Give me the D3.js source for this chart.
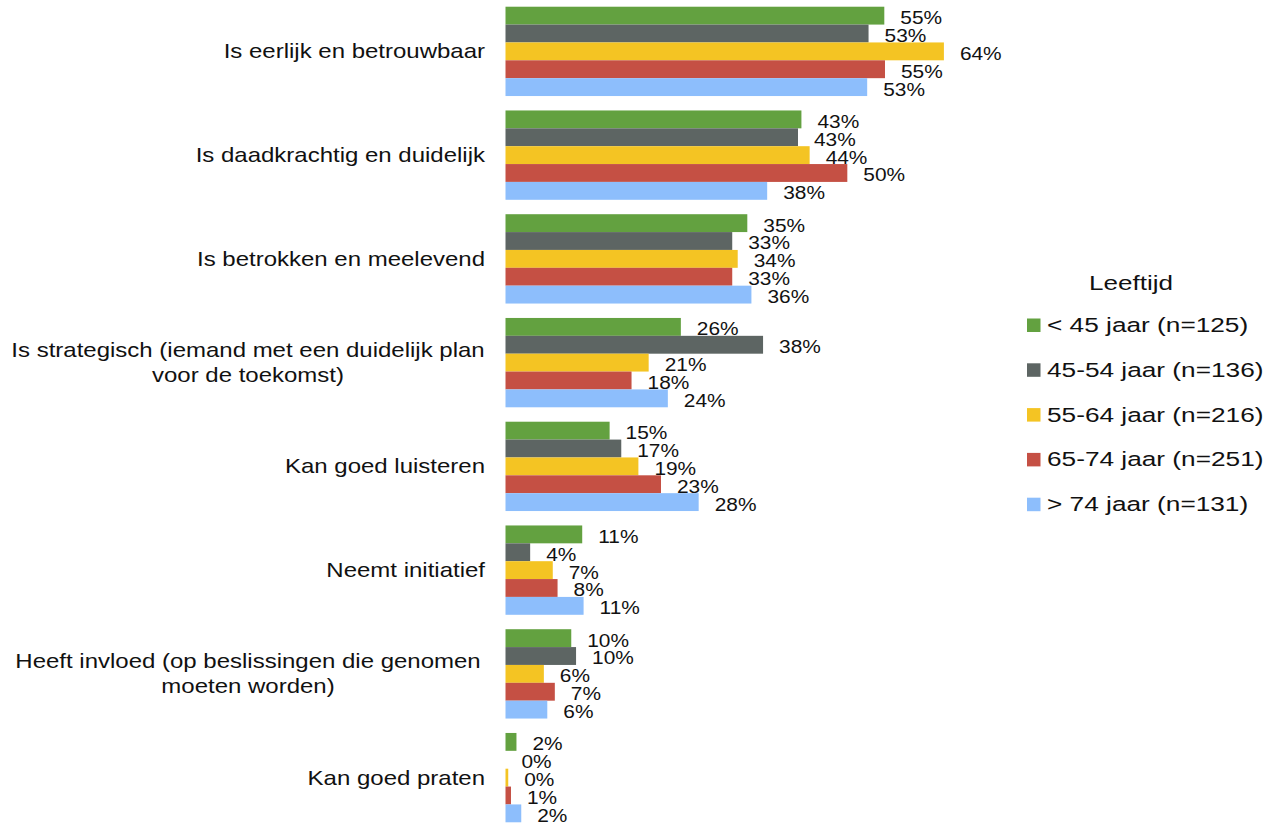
<!DOCTYPE html>
<html>
<head>
<meta charset="utf-8">
<script src="https://cdn.jsdelivr.net/npm/d3@7"></script>
<style>
  html, body { margin: 0; padding: 0; background: #fff; }
  svg { display: block; font-family: "Liberation Sans", Arial, sans-serif; }
</style>
</head>
<body>
<svg id="chart" width="1270" height="823"></svg>
<script>
const categories = [
  "Is eerlijk en betrouwbaar",
  "Is daadkrachtig en duidelijk",
  "Is betrokken en meelevend",
  "Is strategisch (iemand met een duidelijk plan\nvoor de toekomst)",
  "Kan goed luisteren",
  "Neemt initiatief",
  "Heeft invloed (op beslissingen die genomen\nmoeten worden)",
  "Kan goed praten"
];
const seriesNames = [
  "< 45 jaar (n=125)",
  "45-54 jaar (n=136)",
  "55-64 jaar (n=216)",
  "65-74 jaar (n=251)",
  "> 74 jaar (n=131)"
];
const seriesColors = ["#63A140", "#5D6563", "#F4C423", "#C55044", "#8DBEFC"];
const under45  = [55.3, 43.2, 35.3, 25.6, 15.2, 11.2,  9.6, 1.6];
const age45_54 = [53.0, 42.7, 33.1, 37.6, 16.9,  3.6, 10.3, 0.0];
const age55_64 = [64.0, 44.4, 33.9, 20.9, 19.4,  6.9,  5.6, 0.4];
const age65_74 = [55.4, 49.9, 33.1, 18.4, 22.7,  7.6,  7.2, 0.8];
const over74   = [52.8, 38.2, 35.9, 23.7, 28.2, 11.4,  6.1, 2.3];
const legendTitle = "Leeftijd";

const seriesValues = [under45, age45_54, age55_64, age65_74, over74];

const svg = d3.select("#chart");

const x = d3.scaleLinear().domain([0, 100]).range([505.5, 1190.5]);
const y = d3.scaleBand().domain(categories).range([-0.5, 829.5]).paddingInner(0.139).paddingOuter(0.0695);
const ys = d3.scaleBand().domain(seriesNames).range([0, y.bandwidth()]);
const color = d3.scaleOrdinal().domain(seriesNames).range(seriesColors);
const fmt = v => d3.format(".0f")(v) + "%";

const rows = categories.map((c, i) => ({
  cat: c,
  vals: seriesNames.map((s, j) => ({ s, v: seriesValues[j][i] }))
}));

const groups = svg.append("g").selectAll("g.grp")
  .data(rows).join("g")
  .attr("class", "grp")
  .attr("transform", d => `translate(0,${y(d.cat)})`);

groups.selectAll("rect")
  .data(d => d.vals).join("rect")
  .attr("x", x(0))
  .attr("y", d => ys(d.s))
  .attr("width", d => x(d.v) - x(0))
  .attr("height", ys.bandwidth())
  .attr("fill", d => color(d.s));

groups.selectAll("text.val")
  .data(d => d.vals).join("text")
  .attr("class", "val")
  .attr("transform", d => `translate(${x(d.v) + 16},${ys(d.s) + ys.bandwidth() - 0.5}) scale(1.16,1)`)
  .attr("font-size", 18)
  .attr("fill", "#111")
  .text(d => fmt(d.v));

// category labels
const catG = svg.append("g");
categories.forEach(c => {
  const lines = c.split("\n");
  const cy = y(c) + y.bandwidth() / 2;
  if (lines.length === 1) {
    catG.append("text")
      .attr("transform", `translate(485,${cy + 7}) scale(1.2,1)`)
      .attr("text-anchor", "end")
      .attr("font-size", 20)
      .attr("fill", "#111")
      .text(c);
  } else {
    const lh = 25;
    lines.forEach((ln, k) => {
      const by = cy + 7 + (k - (lines.length - 1) / 2) * lh;
      catG.append("text")
        .attr("transform", `translate(248,${by}) scale(1.2,1)`)
        .attr("text-anchor", "middle")
        .attr("font-size", 20)
        .attr("fill", "#111")
        .text(ln);
    });
  }
});

// legend
const lg = svg.append("g");
lg.append("text")
  .attr("transform", "translate(1131,290) scale(1.27,1)")
  .attr("text-anchor", "middle")
  .attr("font-size", 20.5)
  .attr("fill", "#111")
  .text(legendTitle);
const li = lg.selectAll("g.item").data(seriesNames).join("g")
  .attr("class", "item")
  .attr("transform", (d, i) => `translate(1027,${318.5 + i * 44.8})`);
li.append("rect").attr("width", 13.5).attr("height", 13.5).attr("fill", d => color(d));
li.append("text")
  .attr("transform", "translate(20,13.5) scale(1.28,1)")
  .attr("font-size", 20.5)
  .attr("fill", "#111")
  .text(d => d);
</script>
</body>
</html>
